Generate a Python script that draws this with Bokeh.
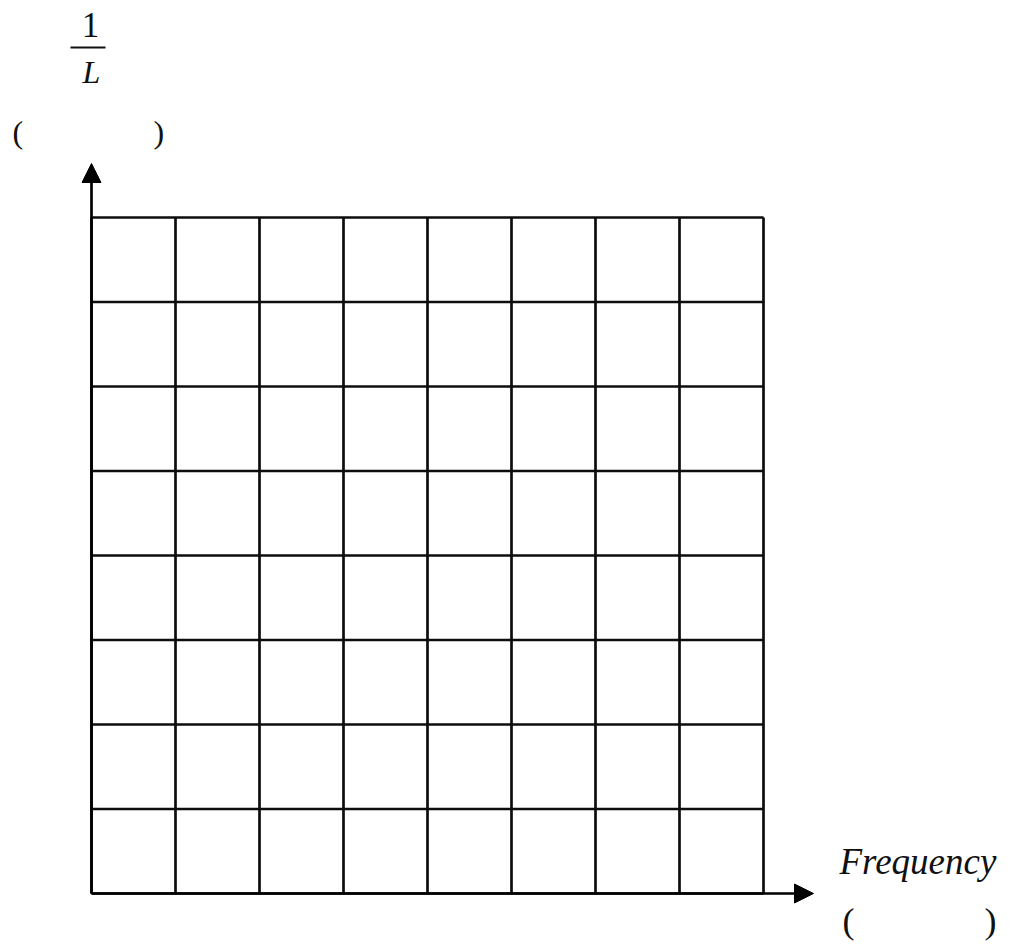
from bokeh.plotting import figure
from bokeh.models import Range1d, Arrow, NormalHead
from bokeh.core.properties import value
from bokeh.embed import file_html
from bokeh.resources import INLINE

# ---- data ----
x_cells = [0, 1, 2, 3, 4, 5, 6, 7, 8]      # vertical grid lines (frequency units)
y_cells = [0, 1, 2, 3, 4, 5, 6, 7, 8]      # horizontal grid lines (1/L units)
x_label = "Frequency"
y_num = "1"
y_den = "L"
unit_open = "("
unit_close = ")"

# ---- layout helpers (page pixels -> data units) ----
X0, CW = 91.0, 84.0
Y0, RH = 893.0, 84.5
W, H = 1010, 946
OX, OY = 0, 0

def ux(px):
    return (px - X0) / CW

def vy(py):
    return (Y0 - py) / RH

p = figure(width=W, height=H, output_backend="svg", toolbar_location=None,
           x_range=Range1d(ux(OX), ux(OX + W)), y_range=Range1d(vy(OY + H), vy(OY)),
           min_border=0, outline_line_color=None)
p.axis.visible = False
p.grid.visible = False
p.background_fill_color = "white"
p.border_fill_color = "white"

col = "#0d0d0d"
lw = 2.7
xmax, ymax = max(x_cells), max(y_cells)
# vertical lines
p.segment(x0=x_cells, y0=[0] * len(x_cells), x1=x_cells, y1=[ymax] * len(x_cells),
          line_color=col, line_width=lw)
# horizontal lines
p.segment(x0=[0] * len(y_cells), y0=y_cells, x1=[xmax] * len(y_cells), y1=y_cells,
          line_color=col, line_width=lw)

# axes arrows
p.add_layout(Arrow(end=NormalHead(size=19, fill_color="black", line_color="black", line_width=1),
                   x_start=0, y_start=0, x_end=ux(813), y_end=0,
                   line_color="black", line_width=2.7))
p.add_layout(Arrow(end=NormalHead(size=19, fill_color="black", line_color="black", line_width=1),
                   x_start=0, y_start=0, x_end=0, y_end=vy(163),
                   line_color="black", line_width=2.7))

serif = value("Liberation Serif")
tc = "#111111"

# x-axis label
p.text(x=[ux(839)], y=[vy(861)], text=[x_label], text_font=serif, text_font_size="37px",
       text_font_style="italic", text_color=tc, text_align="left", text_baseline="alphabetic")
p.text(x=[ux(842), ux(984)], y=[vy(920), vy(920)], text=[unit_open, unit_close], text_font=serif,
       text_font_size="36px", text_color=tc, text_align="left", text_baseline="alphabetic")

# y-axis label (fraction 1/L)
p.text(x=[ux(90)], y=[vy(24)], text=[y_num], text_font=serif, text_font_size="35px",
       text_color=tc, text_align="center", text_baseline="alphabetic")
p.segment(x0=[ux(70)], y0=[vy(47)], x1=[ux(105)], y1=[vy(47)], line_color=tc, line_width=2)
p.text(x=[ux(91)], y=[vy(71)], text=[y_den], text_font=serif, text_font_size="32px",
       text_font_style="italic", text_color=tc, text_align="center", text_baseline="alphabetic")
p.text(x=[ux(12), ux(153)], y=[vy(131), vy(131)], text=[unit_open, unit_close], text_font=serif,
       text_font_size="32px", text_color=tc, text_align="left", text_baseline="alphabetic")

open("out.html", "w").write(file_html(p, INLINE))
